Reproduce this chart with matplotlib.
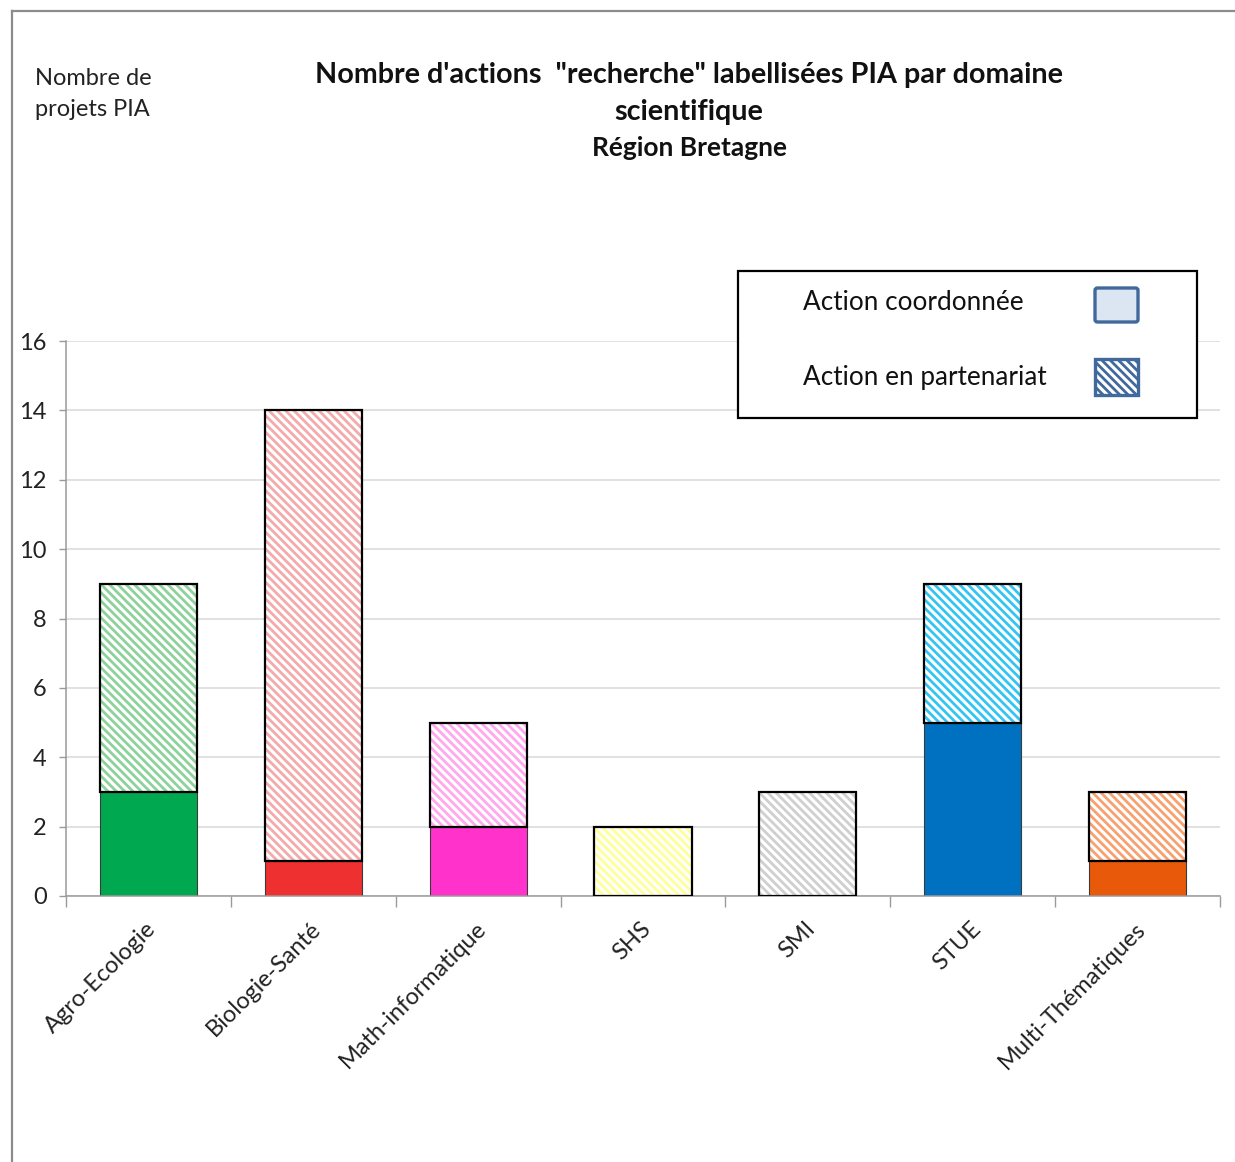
import matplotlib
matplotlib.use("Agg")
import matplotlib.pyplot as plt
import matplotlib.transforms as mtransforms
from matplotlib.patches import Rectangle, FancyBboxPatch
from matplotlib.lines import Line2D
import numpy as np

plt.rcParams['font.family'] = ['Lato', 'DejaVu Sans']
plt.rcParams['hatch.linewidth'] = 2.0

categories = ["Agro-Ecologie", "Biologie-Santé", "Math-informatique", "SHS", "SMI",
              "STUE", "Multi-Thématiques"]
coordonnee = [3, 1, 2, 0, 0, 5, 1]
partenariat = [6, 13, 3, 2, 3, 4, 2]

solid_colors = ["#00A94F", "#EE3030", "#FF33CC", "#FFFF99", "#D0D0D0", "#0070C0", "#E85A0A"]
hatch_colors = ["#8CD29A", "#F4AAAA", "#FFA8EE", "#FFFF99", "#CFCFCF", "#33C4F4", "#F9A070"]

HATCH = "\\\\\\\\"

W, H = 1235, 1162
fig = plt.figure(figsize=(W / 100, H / 100), dpi=100)


def fx(px):
    return px / W


def fy(py):
    return 1 - py / H


ax = fig.add_axes([fx(66), fy(896), fx(1220) - fx(66), fy(341) - fy(896)])
x = np.arange(len(categories))
width = 0.59

# solid part: coordinated actions
for i in range(len(categories)):
    if coordonnee[i] > 0:
        ax.bar(x[i], coordonnee[i], width, color=solid_colors[i],
               edgecolor="#3A3A3A", linewidth=0.8, zorder=2)

# hatched part: partnership actions, stacked on top
for i in range(len(categories)):
    ax.bar(x[i], partenariat[i], width, bottom=coordonnee[i], color="white",
           edgecolor=hatch_colors[i], linewidth=0, hatch=HATCH, zorder=2)
    ax.bar(x[i], partenariat[i], width, bottom=coordonnee[i], fill=False,
           edgecolor="black", linewidth=1.6, zorder=3)

ax.set_xlim(-0.5, len(categories) - 0.5)
ax.set_ylim(0, 16)
ax.set_yticks(np.arange(0, 17, 2))
ax.yaxis.grid(True, color="#D9D9D9", linewidth=1.1)
ax.set_axisbelow(True)
for s in ["top", "right"]:
    ax.spines[s].set_visible(False)
for s in ["left", "bottom"]:
    ax.spines[s].set_color("#9A9A9A")
    ax.spines[s].set_linewidth(1.1)

ax.tick_params(axis="y", length=5, width=1, color="#9A9A9A", labelsize=17, pad=9,
               labelcolor="#222222")
ax.set_xticks(x)
ax.set_xticklabels(categories, rotation=45, ha="right", rotation_mode="anchor",
                   fontsize=17, color="#222222")
ax.tick_params(axis="x", which="major", length=0, pad=16)
shift = mtransforms.ScaledTranslation(-3 / 100, 0, fig.dpi_scale_trans)
for lab in ax.get_xticklabels():
    lab.set_transform(lab.get_transform() + shift)
ax.set_xticks(np.arange(-0.5, len(categories), 1), minor=True)
ax.tick_params(axis="x", which="minor", length=8, width=1, color="#9A9A9A")

# titles
fig.text(fx(689), fy(75), "Nombre d'actions  \"recherche\" labellisées PIA par domaine",
         ha="center", va="center", fontsize=20.7, fontweight="bold", color="#111111")
fig.text(fx(689), fy(112), "scientifique", ha="center", va="center",
         fontsize=20.7, fontweight="bold", color="#111111")
fig.text(fx(689), fy(148), "Région Bretagne", ha="center", va="center",
         fontsize=19, fontweight="bold", color="#111111")
fig.text(fx(35), fy(94), "Nombre de\nprojets PIA", ha="left", va="center",
         fontsize=17, color="#222222", linespacing=1.55)

# legend box
fig.patches.append(Rectangle((fx(738), fy(418)), fx(1197) - fx(738), fy(271) - fy(418),
                             transform=fig.transFigure, facecolor="white",
                             edgecolor="black", linewidth=1.6, zorder=5))
fig.text(fx(803), fy(303), "Action coordonnée", ha="left", va="center",
         fontsize=18.8, color="#111111", zorder=6)
fig.text(fx(803), fy(378), "Action en partenariat", ha="left", va="center",
         fontsize=18.8, color="#111111", zorder=6)
fig.patches.append(FancyBboxPatch((fx(1095), fy(322)), fx(1138) - fx(1095), fy(288) - fy(322),
                                  boxstyle="round,pad=0,rounding_size=0.002",
                                  transform=fig.transFigure, facecolor="#DCE6F2",
                                  edgecolor="#41699C", linewidth=2.4, zorder=6))
fig.patches.append(Rectangle((fx(1095), fy(395)), fx(1138) - fx(1095), fy(359) - fy(395),
                             transform=fig.transFigure, facecolor="white",
                             edgecolor="#41699C", linewidth=0, hatch=HATCH, zorder=6))
fig.patches.append(Rectangle((fx(1095), fy(395)), fx(1138) - fx(1095), fy(359) - fy(395),
                             transform=fig.transFigure, fill=False,
                             edgecolor="#41699C", linewidth=2.4, zorder=7))

# outer frame
fig.lines.append(Line2D([fx(12), fx(12)], [0, fy(11)], transform=fig.transFigure,
                        color="#8C8C8C", linewidth=1.6))
fig.lines.append(Line2D([fx(12), 1], [fy(11), fy(11)], transform=fig.transFigure,
                        color="#8C8C8C", linewidth=1.6))

fig.savefig("out.png", dpi=100)
